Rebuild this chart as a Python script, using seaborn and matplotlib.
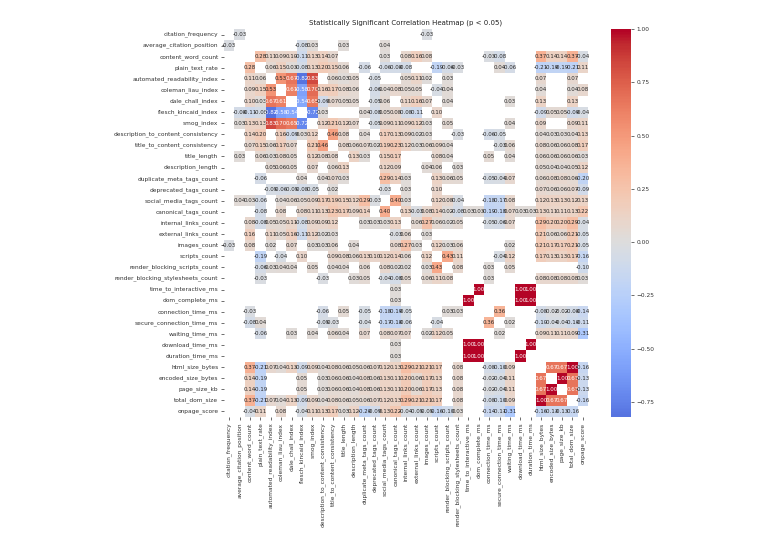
import numpy as np
import pandas as pd
import matplotlib
matplotlib.use("Agg")
import matplotlib.pyplot as plt
import seaborn as sns

features = [
    "citation_frequency", "average_citation_position", "content_word_count", "plain_text_rate",
    "automated_readability_index", "coleman_liau_index", "dale_chall_index", "flesch_kincaid_index",
    "smog_index", "description_to_content_consistency", "title_to_content_consistency", "title_length",
    "description_length", "duplicate_meta_tags_count", "deprecated_tags_count", "social_media_tags_count",
    "canonical_tags_count", "internal_links_count", "external_links_count", "images_count",
    "scripts_count", "render_blocking_scripts_count", "render_blocking_stylesheets_count",
    "time_to_interactive_ms", "dom_complete_ms", "connection_time_ms", "secure_connection_time_ms",
    "waiting_time_ms", "download_time_ms", "duration_time_ms", "html_size_bytes", "encoded_size_bytes",
    "page_size_kb", "total_dom_size", "onpage_score",
]

# significant correlations, upper triangle only,
# each dict is {index of other feature: r}
r_citation = {1: -.03, 19: -.03}
r_avg_position = {7: -.08, 8: .03, 11: .03, 15: .04}
r_word_count = {3: .28, 4: .11, 5: .09, 6: .10, 7: -.11, 8: .13, 9: .14, 10: .07, 15: .03, 17: .08, 18: .16, 19: .08,
                25: -.03, 26: -.08, 30: .37, 31: .14, 32: .14, 33: .37, 34: -.04}
r_plain_text = {4: .06, 5: .15, 6: .03, 7: -.08, 8: .13, 9: .20, 10: .15, 11: .06, 13: -.06, 15: -.06, 16: -.08,
                17: -.08, 20: -.19, 21: -.06, 22: -.03, 26: .04, 27: -.06, 30: -.21, 31: -.19, 32: -.19, 33: -.21,
                34: .11}
r_ari = {5: .53, 6: .67, 7: -.82, 8: .83, 10: .06, 11: .03, 12: .05, 14: -.05, 17: .05, 18: .11, 19: .02, 21: .03,
         30: .07, 33: .07}
r_coleman = {6: .61, 7: -.58, 8: .70, 9: .16, 10: .17, 11: .08, 12: .06, 14: -.06, 15: .04, 16: .08, 17: .05, 18: .05,
             20: -.04, 21: .04, 30: .04, 33: .04, 34: .08}
r_dale = {7: -.54, 8: .65, 9: -.09, 10: .07, 11: .05, 12: .05, 14: -.05, 15: .06, 17: .11, 18: .16, 19: .07, 21: .04,
          27: .03, 30: .13, 33: .13}
r_flesch = {8: -.72, 9: .03, 13: .04, 14: -.08, 15: .05, 16: .08, 17: -.08, 18: -.11, 20: .10, 30: -.09, 31: .05,
            32: .05, 33: -.09, 34: -.04}
r_smog = {9: .12, 10: .21, 11: .12, 12: .07, 14: -.05, 15: .09, 16: .11, 17: .09, 18: .12, 19: .03, 21: .05, 27: .04,
          30: .09, 33: .09, 34: .11}
r_desc_cons = {10: .46, 11: .08, 13: .04, 15: .17, 16: .13, 17: .09, 18: .02, 19: .03, 22: -.03, 25: -.06, 26: -.05,
               30: .04, 31: .03, 32: .03, 33: .04, 34: .13}
r_title_cons = {11: .08, 12: .06, 13: .07, 14: .02, 15: .19, 16: .23, 17: .12, 18: .03, 19: .06, 20: .09, 21: .04,
                26: -.03, 27: .06, 30: .08, 31: .06, 32: .06, 33: .08, 34: .17}
r_title_len = {12: .13, 13: .03, 15: .15, 16: .17, 20: .08, 21: .04, 25: .05, 27: .04, 30: .06, 31: .06, 32: .06,
               33: .06, 34: .03}
r_desc_len = {15: .12, 16: .09, 19: .04, 20: .06, 22: .03, 30: .05, 31: .04, 32: .04, 33: .05, 34: .12}
r_dup_meta = {15: .29, 16: .14, 17: .03, 20: .13, 21: .06, 22: .05, 25: -.05, 26: -.04, 27: .07, 30: .06, 31: .08,
              32: .08, 33: .06, 34: -.20}
r_deprecated = {15: -.03, 17: .03, 20: .10, 30: .07, 31: .06, 32: .06, 33: .07, 34: -.09}
r_social = {16: .40, 17: .03, 20: .12, 21: .08, 22: -.04, 25: -.18, 26: -.17, 27: .08, 30: .12, 31: .13, 32: .13,
            33: .12, 34: .13}
r_canonical = {17: .13, 18: -.03, 19: .08, 20: .14, 21: .02, 22: -.08, 23: .03, 24: .03, 25: -.19, 26: -.18, 27: .07,
               28: .03, 29: .03, 30: .13, 31: .11, 32: .11, 33: .13, 34: .22}
r_internal = {18: .06, 19: .27, 20: .06, 21: .02, 22: .05, 25: -.05, 26: -.06, 27: .07, 30: .29, 31: .20, 32: .20,
              33: .29, 34: -.04}
r_external = {19: .03, 30: .21, 31: .06, 32: .06, 33: .21, 34: -.05}
r_images = {20: .12, 21: .03, 22: .06, 27: .02, 30: .21, 31: .17, 32: .17, 33: .21, 34: -.05}
r_scripts = {21: .43, 22: .11, 26: -.04, 27: .12, 30: .17, 31: .13, 32: .13, 33: .17, 34: -.16}
r_block_scripts = {22: .08, 25: .03, 27: .05, 34: -.10}
r_block_styles = {25: .03, 30: .08, 31: .08, 32: .08, 33: .08, 34: .03}
r_tti = {24: 1.0, 28: 1.0, 29: 1.0}
r_dom_complete = {28: 1.0, 29: 1.0}
r_connection = {26: .36, 30: -.08, 31: -.02, 32: -.02, 33: -.08, 34: -.14}
r_secure = {27: .02, 30: -.10, 31: -.04, 32: -.04, 33: -.10, 34: -.11}
r_waiting = {30: .09, 31: .11, 32: .11, 33: .09, 34: -.31}
r_download = {29: 1.0}
r_duration = {}
r_html = {31: .67, 32: .67, 33: 1.0, 34: -.16}
r_encoded = {32: 1.0, 33: .67, 34: -.13}
r_page = {33: .67, 34: -.13}
r_dom_size = {34: -.16}

upper_rows = [
    r_citation, r_avg_position, r_word_count, r_plain_text, r_ari, r_coleman, r_dale, r_flesch, r_smog,
    r_desc_cons, r_title_cons, r_title_len, r_desc_len, r_dup_meta, r_deprecated, r_social, r_canonical,
    r_internal, r_external, r_images, r_scripts, r_block_scripts, r_block_styles, r_tti, r_dom_complete,
    r_connection, r_secure, r_waiting, r_download, r_duration, r_html, r_encoded, r_page, r_dom_size,
]

corr = pd.DataFrame(np.nan, index=features, columns=features)
for i, row in enumerate(upper_rows):
    for j, r in row.items():
        corr.iloc[i, j] = r
        corr.iloc[j, i] = r

fig = plt.figure(figsize=(7.68, 5.45), dpi=100)
W, H = 768, 545
ax = fig.add_axes([224 / W, 1 - 417 / H, 364 / W, 388 / H])
cax = fig.add_axes([611 / W, 1 - 417 / H, 20 / W, 388 / H])

sns.heatmap(corr, ax=ax, cbar_ax=cax, cmap="coolwarm", center=0, annot=True, fmt=".2f",
            annot_kws={"size": 4.0}, xticklabels=True, yticklabels=True)

ax.set_title("Statistically Significant Correlation Heatmap (p < 0.05)", fontsize=5.0, pad=3.5, color="#222222")
ax.tick_params(axis="both", labelsize=4.2, length=2, width=0.5, pad=2, colors="#333333")
ax.tick_params(axis="y", labelrotation=0)
ax.tick_params(axis="x", labelrotation=90)
cax.tick_params(labelsize=4.2, length=2, width=0.5, pad=2, colors="#333333")

fig.savefig("out.png", dpi=100)
